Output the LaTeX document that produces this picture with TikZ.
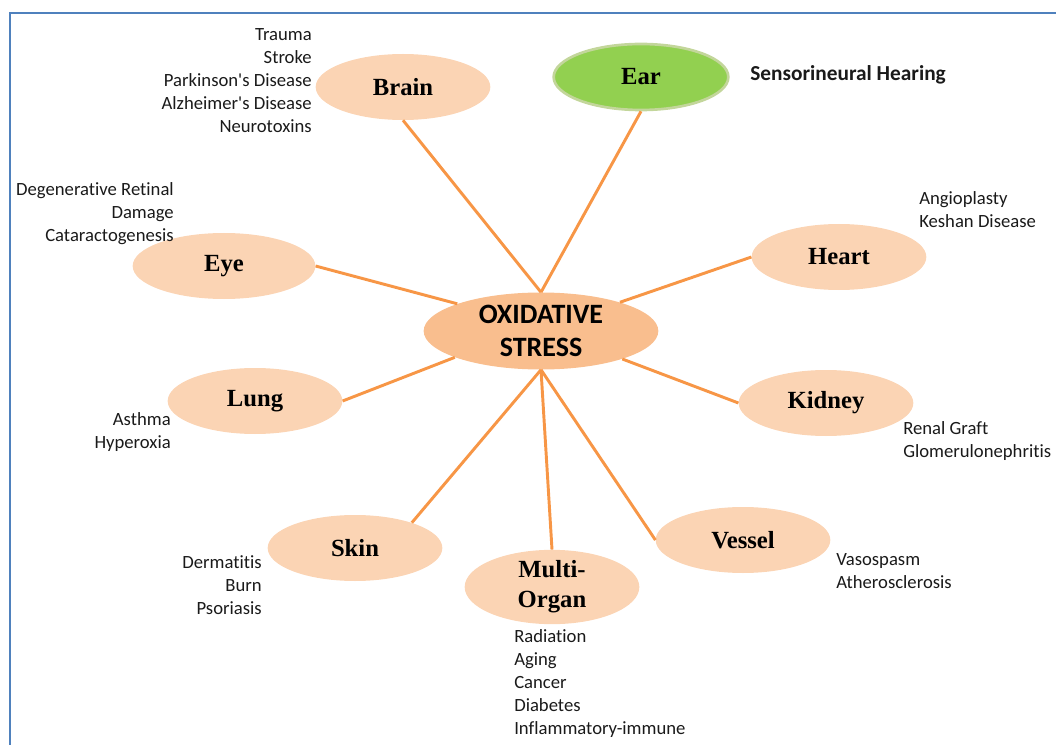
\documentclass[tikz,border=0pt]{standalone}
\usepackage{fontspec}
\setmainfont{Carlito}[Ligatures={TeXOff,CommonOff}]
\newfontfamily\orgfont{Liberation Serif}
\usetikzlibrary{shapes.geometric}
\definecolor{peach}{HTML}{FBD4B4}
\definecolor{peachdark}{HTML}{F9BE8E}
\definecolor{linkor}{HTML}{F79646}
\definecolor{eargreen}{HTML}{92D050}
\definecolor{earrim}{HTML}{C3D69B}
\definecolor{framebl}{HTML}{4F81BD}
\definecolor{txt}{HTML}{1A1A1A}
\begin{document}
\begin{tikzpicture}[x=0.75pt,y=-0.75pt,
  organ/.style={ellipse, fill=peach, minimum width=131pt, minimum height=49.5pt, inner sep=0pt,
    font=\orgfont\bfseries\fontsize{18.5}{22.5}\selectfont, align=center},
  earbox/.style={fill=eargreen, draw=earrim, line width=2pt},
  core/.style={ellipse, fill=peachdark, minimum width=176pt, minimum height=57.75pt, inner sep=0pt,
    font=\bfseries\fontsize{21}{25}\selectfont, align=center},
  link/.style={draw=linkor, line width=2.2pt},
  lstr/.style={inner sep=0pt, anchor=north east, align=right, text=txt, font=\fontsize{14}{17.25}\selectfont},
  lstl/.style={inner sep=0pt, anchor=north west, align=left, text=txt, font=\fontsize{14}{17.25}\selectfont},
]
\useasboundingbox (0,0) rectangle (1056,745);
\draw[framebl, line width=1.5pt] (1056,13) -- (10,13) -- (10,745);

\node[core] (ox) at (541,331) {OXIDATIVE\\STRESS};
\node[organ] (brain) at (403,87) {Brain};
\node[organ,earbox] (ear) at (641,77) {Ear};
\node[organ,minimum width=137pt] (eye) at (224,266) {Eye};
\node[organ] (heart) at (839,257) {Heart};
\node[organ] (lung) at (255,401) {Lung};
\node[organ] (kidney) at (826,403) {Kidney};
\node[organ] (skin) at (355,548) {Skin};
\node[organ] (vessel) at (743,540) {Vessel};
\node[organ] (multi) at (552,587) {Multi-\\Organ};

\draw[link] (brain.south) -- (ox.north);
\draw[link] (ear.south) -- (ox.north);
\draw[link] (eye.east) -- (ox.162);
\draw[link] (heart.west) -- (ox.20);
\draw[link] (lung.east) -- (ox.197);
\draw[link] (kidney.west) -- (ox.341);
\draw[link] (skin.24) -- (ox.south);
\draw[link] (multi.north) -- (ox.south);
\draw[link] (vessel.west) -- (ox.south);

\node[lstr] (tbrain) at (312,28) {Trauma\\Stroke\\Parkinson's Disease\\Alzheimer's Disease\\Neurotoxins};
\node[lstr] (teye) at (174,182) {Degenerative Retinal\\Damage\\Cataractogenesis};
\node[inner sep=0pt, anchor=west, text=txt, font=\bfseries\fontsize{16}{19}\selectfont] (tear) at (750,75) {Sensorineural Hearing};
\node[lstl] (theart) at (919,191) {Angioplasty\\Keshan Disease};
\node[lstr] (tlung) at (171,412) {Asthma\\Hyperoxia};
\node[lstl] (tkidney) at (903,421) {Renal Graft\\Glomerulonephritis};
\node[lstr] (tskin) at (262,555) {Dermatitis\\Burn\\Psoriasis};
\node[lstl] (tvessel) at (836,553) {Vasospasm\\Atherosclerosis};
\node[lstl] (tmulti) at (514,629) {Radiation\\Aging\\Cancer\\Diabetes\\Inflammatory-immune};
\end{tikzpicture}
\end{document}
